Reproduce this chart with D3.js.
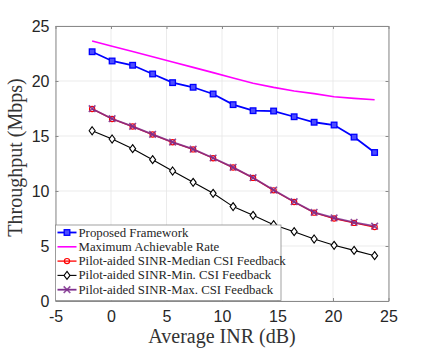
<!DOCTYPE html>
<html>
<head>
<meta charset="utf-8">
<script src="https://cdn.jsdelivr.net/npm/d3@7"></script>
<style>
  body { margin: 0; background: #fff; }
  svg text { fill: #262626; }
  .serif { font-family: "Liberation Serif", "DejaVu Serif", serif; }
</style>
</head>
<body>
<div id="chart"></div>
<script>
const svgWidth = 429, svgHeight = 351;
const margin = { top: 26, right: 40.5, bottom: 50, left: 55.5 };
const width = svgWidth - margin.left - margin.right;
const height = svgHeight - margin.top - margin.bottom;

// average INR (dB) at each simulated point
const inr = [-1.7, 0.1, 1.95, 3.75, 5.55, 7.4, 9.2, 11.0, 12.8, 14.65, 16.5, 18.3, 20.1, 21.9, 23.75];
const proposed = [22.66, 21.82, 21.43, 20.64, 19.85, 19.43, 18.82, 17.85, 17.3, 17.27, 16.75, 16.25, 16.0, 14.9, 13.5];
const maxRate = [23.64, 23.16, 22.68, 22.2, 21.73, 21.24, 20.76, 20.28, 19.8, 19.42, 19.09, 18.85, 18.57, 18.42, 18.3];
const medianCsi = [17.46, 16.55, 15.86, 15.13, 14.43, 13.78, 12.98, 12.13, 11.19, 10.06, 9.0, 8.03, 7.5, 7.1, 6.72];
const minCsi = [15.48, 14.73, 13.85, 12.85, 11.82, 10.79, 9.79, 8.58, 7.79, 6.94, 6.3, 5.64, 5.06, 4.6, 4.12];
const maxCsi = [17.48, 16.57, 15.88, 15.15, 14.45, 13.8, 13.0, 12.15, 11.21, 10.09, 9.03, 8.06, 7.55, 7.15, 6.8];
const xTicks = [-5, 0, 5, 10, 15, 20, 25];
const yTicks = [0, 5, 10, 15, 20, 25];

const series = [
  { name: "Proposed Framework", vals: proposed, color: "#0000ff", lw: 1.8, marker: "square" },
  { name: "Maximum Achievable Rate", vals: maxRate, color: "#ff00ff", lw: 1.6, marker: null },
  { name: "Pilot-aided SINR-Median CSI Feedback", vals: medianCsi, color: "#ff0000", lw: 1.3, marker: "circle" },
  { name: "Pilot-aided SINR-Min. CSI Feedback", vals: minCsi, color: "#000000", lw: 1.1, marker: "diamond" },
  { name: "Pilot-aided SINR-Max. CSI Feedback", vals: maxCsi, color: "#7e2f8e", lw: 1.8, marker: "cross" }
];
// draw order: median under max
const drawOrder = [1, 0, 3, 2, 4];

let svg = d3.select("#chart").append("svg").attr("width", svgWidth).attr("height", svgHeight);
let g = svg.append("g").attr("transform", `translate(${margin.left}, ${margin.top})`);

let x = d3.scaleLinear().domain([-5, 25]).range([0, width]);
let y = d3.scaleLinear().domain([0, 25]).range([height, 0]);

// grid
g.append("g").selectAll("line").data(xTicks).enter().append("line")
  .attr("x1", d => x(d)).attr("x2", d => x(d)).attr("y1", 0).attr("y2", height)
  .attr("stroke", "#e6e6e6").attr("stroke-width", 0.8);
g.append("g").selectAll("line").data(yTicks).enter().append("line")
  .attr("y1", d => y(d)).attr("y2", d => y(d)).attr("x1", 0).attr("x2", width)
  .attr("stroke", "#e6e6e6").attr("stroke-width", 0.8);

// axes (matlab box style, ticks inward)
let fmt = d => String(d);
let xAxis = g.append("g").attr("transform", `translate(0, ${height})`)
  .call(d3.axisBottom(x).tickValues(xTicks).tickSizeInner(-3).tickSizeOuter(0).tickPadding(11).tickFormat(fmt));
let xTop = g.append("g").call(d3.axisTop(x).tickValues(xTicks).tickSizeInner(-3).tickSizeOuter(0).tickFormat(""));
let yAxis = g.append("g")
  .call(d3.axisLeft(y).tickValues(yTicks).tickSizeInner(-3).tickSizeOuter(0).tickPadding(6).tickFormat(fmt));
let yRight = g.append("g").attr("transform", `translate(${width}, 0)`)
  .call(d3.axisRight(y).tickValues(yTicks).tickSizeInner(-3).tickSizeOuter(0).tickFormat(""));
[xAxis, xTop, yAxis, yRight].forEach(a => {
  a.select(".domain").attr("stroke", "#8a8a8a");
  a.selectAll(".tick line").attr("stroke", "#8a8a8a");
  a.selectAll("text").attr("font-family", "Liberation Sans, Arial, sans-serif").attr("font-size", 16).attr("fill", "#262626");
});
xAxis.selectAll("text").attr("dy", "0.6em");

let drawMarker = (sel, s, cx, cy) => {
  if (s.marker == "square") {
    sel.append("rect").attr("x", cx - 2.8).attr("y", cy - 2.8).attr("width", 5.6).attr("height", 5.6)
      .attr("fill", "#4d4dff").attr("stroke", s.color).attr("stroke-width", 1.3);
  } else if (s.marker == "circle") {
    sel.append("circle").attr("cx", cx).attr("cy", cy).attr("r", 2.6)
      .attr("fill", "none").attr("stroke", s.color).attr("stroke-width", 1.2);
  } else if (s.marker == "diamond") {
    sel.append("path").attr("d", `M${cx},${cy - 4}L${cx + 3},${cy}L${cx},${cy + 4}L${cx - 3},${cy}Z`)
      .attr("fill", "#fff").attr("stroke", s.color).attr("stroke-width", 1.1);
  } else if (s.marker == "cross") {
    sel.append("path").attr("d", `M${cx - 3.3},${cy - 3.3}L${cx + 3.3},${cy + 3.3}M${cx - 3.3},${cy + 3.3}L${cx + 3.3},${cy - 3.3}`)
      .attr("stroke", s.color).attr("stroke-width", 1.6).attr("opacity", 0.85);
  }
};

let line = d3.line().x(d => x(d[0])).y(d => y(d[1]));
drawOrder.forEach(i => {
  let s = series[i];
  let pts = inr.map((v, j) => [v, s.vals[j]]);
  let sg = g.append("g");
  sg.append("path").datum(pts).attr("d", line)
    .attr("fill", "none").attr("stroke", s.color).attr("stroke-width", s.lw)
    .attr("opacity", i == 4 ? 0.85 : 1);
  pts.forEach(p => drawMarker(sg, s, x(p[0]), y(p[1])));
});

// legend
let lg = g.append("g").attr("transform", `translate(0, ${y(0) - 76})`);
lg.append("rect").attr("x", 0).attr("y", 0).attr("width", 225.5).attr("height", 75.5)
  .attr("fill", "#fff").attr("stroke", "#8a8a8a").attr("stroke-width", 0.8);
series.forEach((s, i) => {
  let ly = 7.5 + i * 14.3;
  lg.append("line").attr("x1", 2).attr("x2", 21).attr("y1", ly).attr("y2", ly)
    .attr("stroke", s.color).attr("stroke-width", s.lw);
  drawMarker(lg, s, 11.5, ly);
  lg.append("text").attr("class", "serif").attr("x", 23).attr("y", ly + 4)
    .attr("font-size", 12.8)
    .text(s.name);
});

// axis titles
svg.append("text").attr("class", "serif").attr("x", margin.left + width / 2).attr("y", 343)
  .attr("text-anchor", "middle").attr("font-size", 20)
  .style("fill", "#333").text("Average INR (dB)");
svg.append("text").attr("class", "serif").attr("transform", `translate(22, ${margin.top + height / 2 - 6}) rotate(-90)`)
  .attr("text-anchor", "middle").attr("font-size", 20)
  .style("fill", "#333").text("Throughput (Mbps)");
</script>
</body>
</html>
